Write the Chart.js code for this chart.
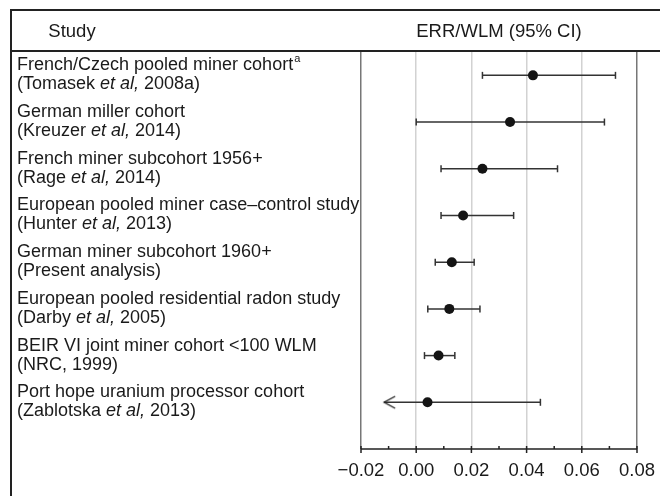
<!DOCTYPE html>
<html>
<head>
<meta charset="utf-8">
<script src="https://cdn.jsdelivr.net/npm/chart.js@4/dist/chart.umd.min.js"></script>
<style>
body { margin: 0; background: #fff; }
#wrap { width: 660px; height: 496px; }
</style>
</head>
<body>
<div id="wrap"><canvas id="myChart"></canvas></div>
<script>
var studies = [
    'French/Czech pooled miner cohort',
    'German miller cohort',
    'French miner subcohort 1956+',
    'European pooled miner case\u2013control study',
    'German miner subcohort 1960+',
    'European pooled residential radon study',
    'BEIR VI joint miner cohort <100 WLM',
    'Port hope uranium processor cohort'
];
var refs = [
    '(Tomasek et al, 2008a)',
    '(Kreuzer et al, 2014)',
    '(Rage et al, 2014)',
    '(Hunter et al, 2013)',
    '(Present analysis)',
    '(Darby et al, 2005)',
    '(NRC, 1999)',
    '(Zablotska et al, 2013)'
];
var footnotes = ['a', '', '', '', '', '', '', ''];
var estimates = [0.0423, 0.0340, 0.0240, 0.0170, 0.0129, 0.0120, 0.0081, 0.0041];
var lower = [0.0240, 0.0000, 0.0090, 0.0090, 0.0069, 0.0042, 0.0030, -0.0116];
var upper = [0.0722, 0.0682, 0.0512, 0.0353, 0.0210, 0.0231, 0.0140, 0.0450];
var lowerTruncated = [false, false, false, false, false, false, false, true];
var xMin = -0.02, xMax = 0.08;

var FONT = '"Liberation Sans", Arial, Helvetica, sans-serif';
var INK = '#1a1a1a';

// "<" head used where the interval runs off to the left
var arrowImg = document.createElement('canvas');
arrowImg.width = 26; arrowImg.height = 16;
(function () {
    var c = arrowImg.getContext('2d');
    c.strokeStyle = '#222';
    c.lineWidth = 1.4;
    c.beginPath();
    c.moveTo(24, 2); c.lineTo(13, 8); c.lineTo(24, 14);
    c.stroke();
})();

var ciSets = estimates.map(function (est, i) {
    return {
        type: 'line',
        order: 1,
        data: [{x: lower[i], y: i + 1}, {x: upper[i], y: i + 1}],
        borderColor: '#333',
        borderWidth: 1.5,
        showLine: true,
        pointStyle: function (c) {
            return (c.dataIndex === 0 && lowerTruncated[i]) ? arrowImg : 'line';
        },
        rotation: function (c) {
            return (c.dataIndex === 0 && lowerTruncated[i]) ? 0 : 90;
        },
        pointRadius: 3.5,
        pointBorderColor: '#333',
        pointBorderWidth: 1.5
    };
});

var pointSet = {
    type: 'scatter',
    order: 0,
    data: estimates.map(function (v, i) { return {x: v, y: i + 1}; }),
    pointRadius: 5,
    backgroundColor: '#141414',
    borderColor: '#141414',
    borderWidth: 0
};

function isMajor(v) {
    return Math.abs(Math.round(v * 100)) % 2 === 0;
}

var tablePlugin = {
    id: 'table',
    afterDraw: function (chart) {
        var ctx = chart.ctx;
        var xs = chart.scales.x, ys = chart.scales.y;
        var area = chart.chartArea;
        ctx.save();

        // frame and header rule
        ctx.strokeStyle = '#222';
        ctx.lineWidth = 2;
        ctx.beginPath();
        ctx.moveTo(11, 496); ctx.lineTo(11, 10); ctx.lineTo(660, 10);
        ctx.moveTo(11, area.top - 1); ctx.lineTo(660, area.top - 1);
        ctx.stroke();

        ctx.fillStyle = INK;
        ctx.textBaseline = 'middle';
        ctx.textAlign = 'center';
        ctx.font = '18.5px ' + FONT;
        ctx.fillText('Study', 72, 32);
        ctx.fillText('ERR/WLM (95% CI)', (area.left + area.right) / 2, 32);

        // study column
        ctx.textAlign = 'left';
        studies.forEach(function (name, i) {
            var py = ys.getPixelForValue(i + 1);
            var x0 = 17;
            ctx.font = '18px ' + FONT;
            ctx.fillText(name, x0, py - 10);
            if (footnotes[i]) {
                var w = ctx.measureText(name).width;
                ctx.font = '11px ' + FONT;
                ctx.fillText(footnotes[i], x0 + w + 1, py - 16);
            }
            var parts = refs[i].split('et al,');
            var cx = x0;
            parts.forEach(function (p, k) {
                ctx.font = '18px ' + FONT;
                ctx.fillText(p, cx, py + 9);
                cx += ctx.measureText(p).width;
                if (k < parts.length - 1) {
                    ctx.font = 'italic 18px ' + FONT;
                    ctx.fillText('et al,', cx, py + 9);
                    cx += ctx.measureText('et al,').width;
                }
            });
        });

        // x axis line with major / minor ticks
        var b = area.bottom;
        ctx.strokeStyle = '#222';
        ctx.lineWidth = 1.5;
        ctx.beginPath();
        ctx.moveTo(area.left, b); ctx.lineTo(area.right, b);
        xs.ticks.forEach(function (t) {
            var px = xs.getPixelForValue(t.value);
            ctx.moveTo(px, b - 3);
            ctx.lineTo(px, isMajor(t.value) ? b + 4 : b);
        });
        ctx.stroke();
        ctx.restore();
    }
};

var options = {
    type: 'scatter',
    data: { datasets: [pointSet].concat(ciSets) },
    plugins: [tablePlugin],
    options: {
        responsive: true,
        maintainAspectRatio: false,
        animation: false,
        events: [],
        layout: { padding: { left: 361, right: 23, top: 52, bottom: 0 } },
        plugins: {
            legend: { display: false },
            tooltip: { enabled: false }
        },
        scales: {
            x: {
                type: 'linear',
                min: xMin,
                max: xMax,
                afterFit: function (s) {
                    s.height = 47;
                    s.paddingLeft = 0;
                    s.paddingRight = 0;
                },
                border: { display: false },
                grid: {
                    drawTicks: false,
                    lineWidth: 1.5,
                    color: function (c) {
                        var v = c.tick.value;
                        if (Math.abs(v - xMin) < 1e-9 || Math.abs(v - xMax) < 1e-9) return '#777';
                        return isMajor(v) ? '#d2d2d2' : 'rgba(0,0,0,0)';
                    }
                },
                ticks: {
                    stepSize: 0.01,
                    padding: 11,
                    color: INK,
                    font: { family: FONT, size: 18.5 },
                    maxRotation: 0,
                    autoSkip: false,
                    callback: function (v) {
                        if (!isMajor(v)) return '';
                        return (v < -1e-9 ? '\u2212' : '') + Math.abs(v).toFixed(2);
                    }
                }
            },
            y: {
                type: 'linear',
                display: false,
                reverse: true,
                min: 0.5,
                max: 9
            }
        }
    }
};

var ctx = document.getElementById('myChart');
var chart = new Chart(ctx, options);
</script>
</body>
</html>
